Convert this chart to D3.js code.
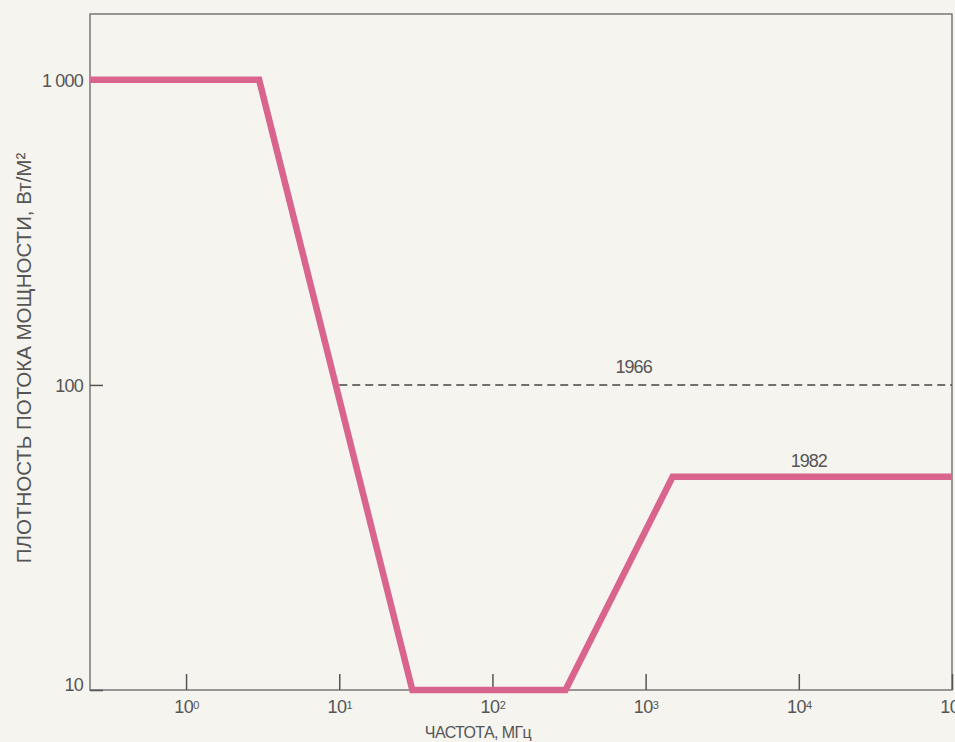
<!DOCTYPE html>
<meta charset="utf-8">
<style>
body { margin: 0; background: #f5f4ef; }
svg { display: block; }
text { font-family: "Liberation Sans", Arial, sans-serif; fill: #555; }
.axis path, .axis line { fill: none; stroke: #555; stroke-width: 1.5; }
</style>
<body></body>
<script src="https://cdnjs.cloudflare.com/ajax/libs/d3/7.8.5/d3.min.js"></script>
<script>
// значения
var freq1982 = [0.236, 3, 30, 300, 1500, 100000];   // МГц
var pd1982   = [1000, 1000, 10, 10, 50, 50];         // Вт/м2
var freq1966 = [10, 100000];
var pd1966   = [100, 100];
var xTicks = [1, 10, 100, 1000, 10000, 100000];
var xTickExp = ["0", "1", "2", "3", "4", "5"];
var yTicks = [10, 100, 1000];
var yTickLabels = ["10", "100", "1 000"];
var seriesLabels = ["1966", "1982"];

var W = 955, H = 742;
var margin = {left: 90, right: 952, top: 14, bottom: 690};

var x = d3.scaleLog().domain([0.236, 100000]).range([margin.left, margin.right]);
var y = d3.scaleLog().domain([10, 1644]).range([margin.bottom, margin.top]);

var svg = d3.select("body").append("svg")
    .attr("width", W)
    .attr("height", H);

// рамка
svg.append("rect")
    .attr("x", margin.left).attr("y", margin.top)
    .attr("width", margin.right - margin.left).attr("height", margin.bottom - margin.top)
    .attr("fill", "none").attr("stroke", "#666").attr("stroke-width", 1.3);

// ось X, засечки внутрь
var gx = svg.append("g")
    .attr("class", "axis")
    .attr("transform", "translate(0," + margin.bottom + ")")
    .call(d3.axisBottom(x).tickValues(xTicks).tickSize(-16).tickFormat(""));
gx.select(".domain").remove();
gx.selectAll(".tick").append("text")
    .attr("y", 23)
    .attr("text-anchor", "middle")
    .style("font-size", "18px")
    .style("letter-spacing", "-0.5px")
    .each(function(d, i) {
      var t = d3.select(this);
      t.append("tspan").text("10");
      t.append("tspan").attr("dy", "-0.4em").style("font-size", "11px").text(xTickExp[i]);
    });

// ось Y
var gy = svg.append("g")
    .attr("class", "axis")
    .attr("transform", "translate(" + margin.left + ",0)")
    .call(d3.axisLeft(y).tickValues(yTicks).tickSize(-13)
      .tickFormat(function(d, i) { return yTickLabels[i]; }));
gy.select(".domain").remove();
gy.selectAll(".tick text")
    .attr("x", -7)
    .attr("dy", function(d) { return d === 10 ? "0" : "0.35em"; })
    .style("font-size", "18px")
    .style("letter-spacing", "-0.8px")
    .style("fill", "#555");

var line = d3.line()
    .x(function(d) { return x(d[0]); })
    .y(function(d) { return y(d[1]); });

// 1966 - пунктир
svg.append("path")
    .datum(d3.zip(freq1966, pd1966))
    .attr("d", line)
    .attr("fill", "none")
    .attr("stroke", "#444")
    .attr("stroke-width", 1.6)
    .attr("stroke-dasharray", "8,5");

// 1982 - розовая линия
svg.append("path")
    .datum(d3.zip(freq1982, pd1982))
    .attr("d", line)
    .attr("fill", "none")
    .attr("stroke", "#d9648d")
    .attr("stroke-width", 6.5)
    .attr("stroke-linejoin", "miter");

svg.append("text")
    .attr("x", x(1000) - 12).attr("y", y(100) - 12)
    .attr("text-anchor", "middle")
    .style("font-size", "18px").style("letter-spacing", "-1px")
    .text(seriesLabels[0]);

svg.append("text")
    .attr("x", x(10000) + 10).attr("y", y(50) - 10)
    .attr("text-anchor", "middle")
    .style("font-size", "18px").style("letter-spacing", "-1px")
    .text(seriesLabels[1]);

// подписи осей
svg.append("text")
    .attr("x", 478).attr("y", 738)
    .attr("text-anchor", "middle")
    .style("font-size", "16px")
    .style("letter-spacing", "-0.6px")
    .text("ЧАСТОТА, МГц");

svg.append("text")
    .attr("transform", "translate(31,358) rotate(-90)")
    .attr("text-anchor", "middle")
    .style("font-size", "20.5px")
    .text("ПЛОТНОСТЬ ПОТОКА МОЩНОСТИ, Вт/М²");
</script>
